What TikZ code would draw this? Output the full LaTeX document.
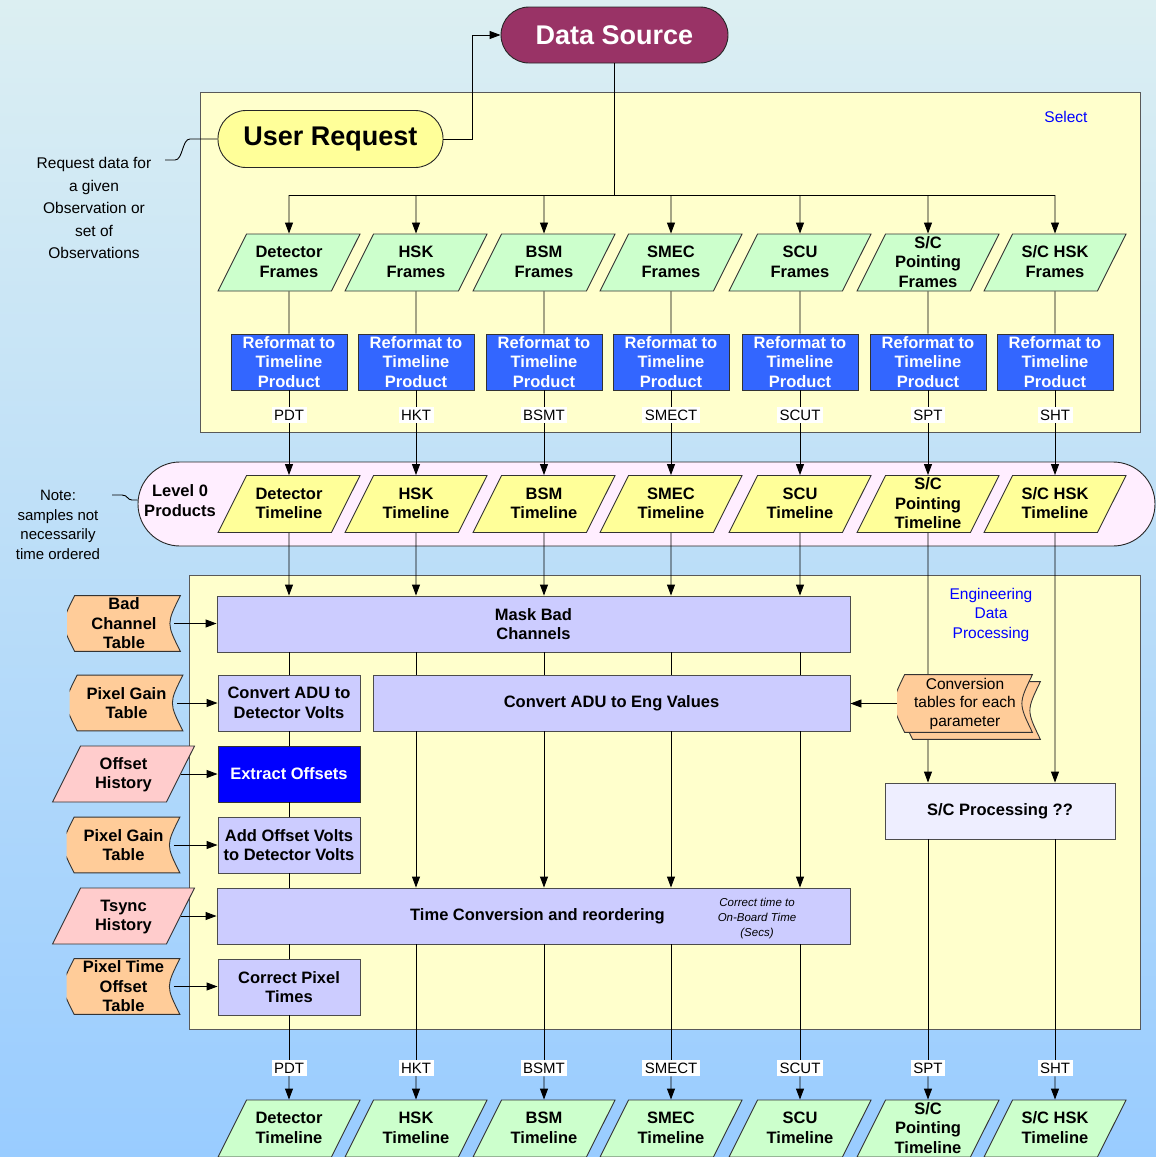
\documentclass[tikz,border=0pt]{standalone}
\usepackage{fontspec}
\setmainfont{Liberation Sans}
\usetikzlibrary{arrows.meta}
\usetikzlibrary{positioning}
\usetikzlibrary{shapes.geometric}
\usetikzlibrary{calc}

\definecolor{bgtop}{HTML}{DCEFF2}
\definecolor{bgbot}{HTML}{99CCFF}
\definecolor{srcfill}{HTML}{993366}
\definecolor{reqfill}{HTML}{FFFF99}
\definecolor{panelfill}{HTML}{FFFFCC}
\definecolor{framefill}{HTML}{CCFFCC}
\definecolor{reffill}{HTML}{3366FF}
\definecolor{bandfill}{HTML}{FFEEFF}
\definecolor{procfill}{HTML}{CCCCFF}
\definecolor{tblfill}{HTML}{FFCC99}
\definecolor{histfill}{HTML}{FFCCCC}
\definecolor{scfill}{HTML}{EEEEFF}

\newcommand{\srcfont}{\fontsize{27}{32}\selectfont\bfseries}
\newcommand{\boxfont}{\fontsize{16.5}{19.5}\selectfont\bfseries}
\newcommand{\notefont}{\fontsize{15.5}{22.5}\selectfont}
\newcommand{\tagfont}{\fontsize{15}{18}\selectfont}
\newcommand{\smallit}{\fontsize{11.5}{15}\selectfont\itshape}
% text of a slanted box, kept out of the shape's size
\newcommand{\slantext}[1]{\smash{\raisebox{-5.5pt}{\begin{tabular}{@{}c@{}}#1\end{tabular}}}}

\begin{document}
\begin{tikzpicture}[
    x=1pt, y=-1pt,
    line width=0.9pt,
    arr/.style={-{Triangle[length=11pt,width=8pt]}},
    panel/.style={draw=black!65, fill=panelfill},
    stadium/.style={draw=black!85, rounded corners=28pt, inner sep=0pt},
    slanted/.style={draw=black!80, trapezium, trapezium left angle=63.4, trapezium right angle=116.6,
        trapezium stretches body, minimum width=142pt, text height=28.5pt, text depth=28.5pt,
        inner sep=0pt, font=\boxfont},
    frm/.style={slanted, fill=framefill},
    tline/.style={slanted, fill=reqfill},
    hist/.style={slanted, fill=histfill, text height=28pt, text depth=28pt},
    refm/.style={draw=black!80, fill=reffill, text=white, minimum width=116pt, minimum height=56pt,
        inner sep=0pt, align=center, font=\boxfont},
    proc/.style={draw=black!70, fill=procfill, minimum height=56pt, inner sep=0pt,
        align=center, font=\boxfont},
    tag/.style={fill=white, inner sep=2.5pt, font=\tagfont},
    note/.style={align=center, font=\notefont},
    % stored data shape: bulging left side, hollow right side
    tbl/.style={minimum width=114pt, minimum height=57pt, inner sep=0pt, align=center, font=\boxfont,
        path picture={
            \filldraw[draw=black!80, fill=tblfill]
                let \p1=($(path picture bounding box.north west)+(0.6pt,-0.6pt)$),
                    \p2=($(path picture bounding box.south east)+(-0.6pt,0.6pt)$) in
                (\x1+7pt,\y1) -- (\x2,\y1) .. controls (\x2-14pt,{0.5*(\y1+\y2)}) .. (\x2,\y2)
                -- (\x1+7pt,\y2) .. controls (\x1-7pt,{0.5*(\y1+\y2)}) .. cycle;
        }}
]

    % background and the two panels
    \useasboundingbox (0,0) rectangle (1156,1157);
    \shade[top color=bgtop, bottom color=bgbot] (0,0) rectangle (1156,1157);
    \draw[panel] (200,92) rectangle (1140,432);
    \draw[panel] (189,575) rectangle (1140,1029);

    % source and request
    \node[stadium, fill=srcfill, text=white, font=\srcfont, minimum width=227pt, minimum height=56pt]
        (src) at (614.5,35) {Data Source};
    \node[stadium, fill=reqfill, font=\srcfont, minimum width=225pt, minimum height=57pt]
        (req) at (330.5,139) {User Request};
    \node[note, text=blue] (sel) at (1066,117) {Select};
    \draw[arr] (req.east) -- ++(29,0) |- (src.west);

    \node[note] (rqn) at (94,208) {Request data for\\a given\\Observation or\\set of\\Observations};
    \coordinate (rqtip) at (165,160);
    \draw (rqtip) -- ++(10,0) .. controls +(8,0) and +(-8,0) .. (190,139) -- (req.west);

    % level 0 band
    \node[draw=black!85, fill=bandfill, rounded corners=42pt, minimum width=1017pt, minimum height=84pt]
        (band) at (646.5,504) {};
    \node[font=\boxfont, align=center] (lzt) at (180,500.5) {Level 0\\Products};
    \node[align=center, font=\fontsize{15}{19.5}\selectfont] (nn) at (58,525)
        {Note:\\samples not\\necessarily\\time ordered};
    \coordinate (ntip) at (112,495);
    \draw (ntip) -- ++(10,0) .. controls +(6,0) and +(-5,0) .. (132,500) -- ([yshift=4pt]band.west);

    % one column per data stream
    \foreach \cx/\nm/\tg [count=\i] in {289/Detector/PDT, 416/HSK/HKT, 544/BSM/BSMT,
            671/SMEC/SMECT, 800/SCU/SCUT, 928/{S/C\\Pointing}/SPT, 1055/{S/C HSK}/SHT} {
        \node[frm] (fr\i) at (\cx,262.5) {\slantext{\nm\\Frames}};
        \node[refm] (rf\i) at (\cx,362) {Reformat to\\Timeline\\Product};
        \node[tag] (ta\i) at (\cx,415) {\tg};
        \node[tline] (lz\i) at (\cx,504) {\slantext{\nm\\Timeline}};
        \node[tag] (tb\i) at (\cx,1068) {\tg};
        \node[frm] (ou\i) at (\cx,1128.5) {\slantext{\nm\\Timeline}};
        \draw (fr\i) -- (rf\i);
        \draw (rf\i) -- (ta\i);
        \draw[arr] (ta\i) -- (lz\i);
        \draw[arr] (tb\i) -- (ou\i);
    }

    % select split
    \coordinate (split) at (614.5,195);
    \draw (src) -- (split);
    \draw (split -| fr1) -- (split -| fr7);
    \foreach \i in {1,...,7}
        \draw[arr] (split -| fr\i) -- (fr\i);

    % processing steps
    \node[proc, minimum width=633pt] (mask) at (533.5,624) {Mask Bad\\Channels};
    \node[proc, minimum width=142pt] (cadu) at (289,703) {Convert ADU to\\Detector Volts};
    \node[proc, minimum width=477pt] (ceng) at (611.5,703) {Convert ADU to Eng Values};
    \node[proc, minimum width=142pt, fill=blue, text=white, draw=black!80] (exo) at (289,774) {Extract Offsets};
    \node[proc, minimum width=142pt] (addo) at (289,845) {Add Offset Volts\\to Detector Volts};
    \node[proc, minimum width=633pt] (tcv) at (533.5,916) {\hspace*{8pt}Time Conversion and reordering};
    \node[align=center, font=\smallit] (tcn) at (757,919) {Correct time to\\On-Board Time\\(Secs)};
    \node[proc, minimum width=142pt] (cpt) at (289,987) {Correct Pixel\\Times};
    \node[proc, minimum width=230pt, fill=scfill] (scp) at (1000,811) {S/C Processing ??};
    \node[note, text=blue, font=\fontsize{15.5}{19.5}\selectfont] (edp) at (991,614.5)
        {Engineering\\Data\\Processing};

    % inputs on the left
    \node[tbl] (bct) at (124,623.5) {Bad\\Channel\\Table};
    \node[tbl] (pgt) at (126.5,703) {Pixel Gain\\Table};
    \node[hist] (ofh) at (123.5,774) {\slantext{Offset\\History}};
    \node[tbl] (pgu) at (123.5,845) {Pixel Gain\\Table};
    \node[hist] (tsh) at (123.5,916) {\slantext{Tsync\\History}};
    \node[tbl] (pto) at (123.5,986.5) {Pixel Time\\Offset\\Table};
    \draw[arr] ([xshift=-7pt]bct.east) -- (bct -| mask.west);
    \draw[arr] ([xshift=-7pt]pgt.east) -- (pgt -| cadu.west);
    \draw[arr] (ofh) -- (exo);
    \draw[arr] ([xshift=-7pt]pgu.east) -- (pgu -| addo.west);
    \draw[arr] (tsh) -- (tsh -| tcv.west);
    \draw[arr] ([xshift=-7pt]pto.east) -- (pto -| cpt.west);

    % detector column
    \draw[arr] (lz1) -- (lz1 |- mask.north);
    \draw (mask.south -| cadu) -- (cadu);
    \draw (cadu) -- (exo);
    \draw (exo) -- (addo);
    \draw (addo) -- (addo |- tcv.north);
    \draw (tcv.south -| cpt) -- (cpt);
    \draw (cpt) -- (tb1);

    % instrument housekeeping columns
    \foreach \i in {2,...,5} {
        \draw[arr] (lz\i) -- (lz\i |- mask.north);
        \draw (lz\i |- mask.south) -- (lz\i |- ceng.north);
        \draw[arr] (lz\i |- ceng.south) -- (lz\i |- tcv.north);
        \draw (lz\i |- tcv.south) -- (tb\i);
    }

    % spacecraft columns
    \foreach \i in {6,7} {
        \draw[arr] (lz\i) -- (lz\i |- scp.north);
        \draw (lz\i |- scp.south) -- (tb\i);
    }

    % conversion tables (two sheets)
    \node[tbl, minimum width=136pt, minimum height=59pt] (convbk) at (973,710.5) {};
    \node[tbl, minimum width=136pt, minimum height=59pt, font=\fontsize{15.5}{18.5}\selectfont]
        (conv) at (965,703.5) {Conversion\\tables for each\\parameter};
    \draw[arr] (conv.west) -- (conv.west -| ceng.east);

\end{tikzpicture}
\end{document}
